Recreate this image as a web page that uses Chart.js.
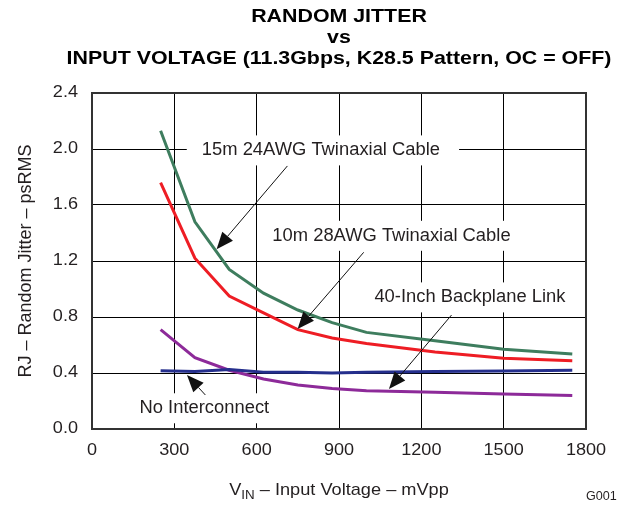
<!DOCTYPE html>
<html>
<head>
<meta charset="utf-8">
<script src="https://cdn.jsdelivr.net/npm/chart.js@4.4.1/dist/chart.umd.min.js"></script>
<style>
  html, body { margin: 0; padding: 0; background: #fff; }
  #wrap { width: 619px; height: 506px; position: relative; }
</style>
</head>
<body>
<div id="wrap"><canvas id="chart" width="619" height="506"></canvas></div>
<script>
// input voltage (mVpp) at which each curve was measured
const vinMv = [250, 375, 500, 625, 750, 875, 1000, 1250, 1500, 1750];

// random jitter (psRMS) for each interconnect
const rjTwinax15m = [2.13, 1.48, 1.14, 0.97, 0.85, 0.76, 0.69, 0.63, 0.57, 0.535];
const rjTwinax10m = [1.76, 1.22, 0.95, 0.83, 0.71, 0.65, 0.61, 0.55, 0.505, 0.487];
const rjBackplane = [0.416, 0.41, 0.425, 0.405, 0.405, 0.40, 0.405, 0.41, 0.415, 0.42];
const rjNoInterconnect = [0.71, 0.51, 0.42, 0.357, 0.314, 0.29, 0.274, 0.262, 0.25, 0.24];

const xTicks = [0, 300, 600, 900, 1200, 1500, 1800];
const yTicks = [0.0, 0.4, 0.8, 1.2, 1.6, 2.0, 2.4];

// callout labels: [text, x (mV), y (ps)] - left edge, vertical middle
const callouts = [
    ['15m 24AWG Twinaxial Cable', 400, 1.99],
    ['10m 28AWG Twinaxial Cable', 657, 1.38],
    ['40-Inch Backplane Link', 1029, 0.94],
    ['No Interconnect', 173, 0.148]
];
// arrows: [tailX, tailY, tipX, tipY] in data units
const arrows = [
    [712, 1.879, 454, 1.284],
    [990, 1.262, 749, 0.714],
    [1310, 0.814, 1082, 0.286],
    [413, 0.243, 346, 0.386]
];

const FONT = '"Liberation Sans", Arial, Helvetica, sans-serif';
const TEXT = '#231f20';

function toPoints(ys) {
    return vinMv.map((v, i) => ({ x: v, y: ys[i] }));
}

// the original artwork uses a slightly wide face, so text gets stretched a bit
function wideText(ctx, text, x, y, align, sx) {
    ctx.save();
    ctx.translate(x, y);
    ctx.scale(sx, 1);
    ctx.textAlign = align;
    ctx.fillText(text, 0, 0);
    ctx.restore();
}

const decor = {
    id: 'decor',
    beforeDatasetsDraw(chart) {
        const ctx = chart.ctx;
        const sx = chart.scales.x, sy = chart.scales.y;
        ctx.save();
        ctx.font = '17.5px ' + FONT;
        ctx.textBaseline = 'middle';
        callouts.forEach(c => {
            const px = sx.getPixelForValue(c[1]);
            const py = sy.getPixelForValue(c[2]);
            const w = ctx.measureText(c[0]).width * 1.05;
            ctx.fillStyle = '#fff';
            ctx.fillRect(px - 15, py - 15, w + 34, 30);
            ctx.fillStyle = TEXT;
            wideText(ctx, c[0], px, py, 'left', 1.05);
        });
        ctx.restore();
    },
    afterDatasetsDraw(chart) {
        const ctx = chart.ctx;
        const a = chart.chartArea;
        const sx = chart.scales.x, sy = chart.scales.y;
        ctx.save();

        // arrows
        arrows.forEach(ar => {
            const x1 = sx.getPixelForValue(ar[0]), y1 = sy.getPixelForValue(ar[1]);
            const x2 = sx.getPixelForValue(ar[2]), y2 = sy.getPixelForValue(ar[3]);
            const ang = Math.atan2(y2 - y1, x2 - x1);
            const len = 17, half = 7;
            const bx = x2 - len * Math.cos(ang), by = y2 - len * Math.sin(ang);
            ctx.strokeStyle = '#111';
            ctx.lineWidth = 1;
            ctx.beginPath();
            ctx.moveTo(x1, y1);
            ctx.lineTo(bx, by);
            ctx.stroke();
            ctx.fillStyle = '#111';
            ctx.beginPath();
            ctx.moveTo(x2, y2);
            ctx.lineTo(bx + half * Math.sin(ang), by - half * Math.cos(ang));
            ctx.lineTo(bx - half * Math.sin(ang), by + half * Math.cos(ang));
            ctx.closePath();
            ctx.fill();
        });

        // plot frame
        ctx.strokeStyle = '#333';
        ctx.lineWidth = 2;
        ctx.strokeRect(a.left, a.top, a.right - a.left, a.bottom - a.top);

        // tick labels, placed from the scales
        ctx.fillStyle = TEXT;
        ctx.textBaseline = 'middle';
        ctx.font = '16px ' + FONT;
        sx.ticks.forEach(t => {
            wideText(ctx, String(t.value), sx.getPixelForValue(t.value), a.bottom + 22, 'center', 1.13);
        });
        sy.ticks.forEach(t => {
            wideText(ctx, Number(t.value).toFixed(1), a.left - 14, sy.getPixelForValue(t.value), 'right', 1.13);
        });

        // title
        const cx = (a.left + a.right) / 2;
        ctx.fillStyle = '#000';
        ctx.font = 'bold 18.5px ' + FONT;
        wideText(ctx, 'RANDOM JITTER', cx, 17, 'center', 1.155);
        wideText(ctx, 'vs', cx, 38, 'center', 1.155);
        wideText(ctx, 'INPUT VOLTAGE (11.3Gbps, K28.5 Pattern, OC = OFF)', cx, 59, 'center', 1.155);

        // x axis title with subscript
        ctx.fillStyle = TEXT;
        const st = 1.07;
        const p1 = 'V', sub = 'IN', p2 = ' \u2013 Input Voltage \u2013 mVpp';
        ctx.font = '17px ' + FONT;
        const w1 = ctx.measureText(p1).width * st, w3 = ctx.measureText(p2).width * st;
        ctx.font = '12.5px ' + FONT;
        const w2 = ctx.measureText(sub).width * st;
        const x0 = cx - (w1 + w2 + w3) / 2;
        ctx.font = '17px ' + FONT;
        wideText(ctx, p1, x0, 490, 'left', st);
        ctx.font = '12.5px ' + FONT;
        wideText(ctx, sub, x0 + w1, 496, 'left', st);
        ctx.font = '17px ' + FONT;
        wideText(ctx, p2, x0 + w1 + w2, 490, 'left', st);

        // y axis title
        ctx.save();
        ctx.translate(26, 261);
        ctx.rotate(-Math.PI / 2);
        ctx.font = '18px ' + FONT;
        ctx.textAlign = 'center';
        ctx.fillText('RJ \u2013 Random Jitter \u2013 psRMS', 0, 0);
        ctx.restore();

        // graph id
        ctx.font = '12px ' + FONT;
        wideText(ctx, 'G001', 586, 497, 'left', 1.05);
        ctx.restore();
    }
};

function line(data, color) {
    return {
        data: toPoints(data),
        borderColor: color,
        backgroundColor: color,
        borderWidth: 3,
        pointRadius: 0,
        tension: 0,
        fill: false
    };
}

new Chart(document.getElementById('chart'), {
    type: 'line',
    data: {
        datasets: [
            line(rjTwinax15m, '#3e7d5e'),
            line(rjTwinax10m, '#ee1d24'),
            line(rjBackplane, '#252f8d'),
            line(rjNoInterconnect, '#8d2a99')
        ]
    },
    options: {
        responsive: false,
        animation: false,
        devicePixelRatio: 1,
        layout: { padding: { top: 93, right: 33, left: 0, bottom: 0 } },
        plugins: { legend: { display: false }, tooltip: { enabled: false } },
        scales: {
            x: {
                type: 'linear',
                min: 0,
                max: 1800,
                afterFit: s => { s.height = 77; },
                afterBuildTicks: s => { s.ticks = xTicks.map(v => ({ value: v })); },
                grid: { color: '#000', lineWidth: 1, drawTicks: false },
                border: { display: false },
                ticks: { display: false }
            },
            y: {
                type: 'linear',
                min: 0,
                max: 2.4,
                afterFit: s => { s.width = 92; },
                afterBuildTicks: s => { s.ticks = yTicks.map(v => ({ value: v })); },
                grid: { color: '#000', lineWidth: 1, drawTicks: false },
                border: { display: false },
                ticks: { display: false }
            }
        }
    },
    plugins: [decor]
});
</script>
</body>
</html>
